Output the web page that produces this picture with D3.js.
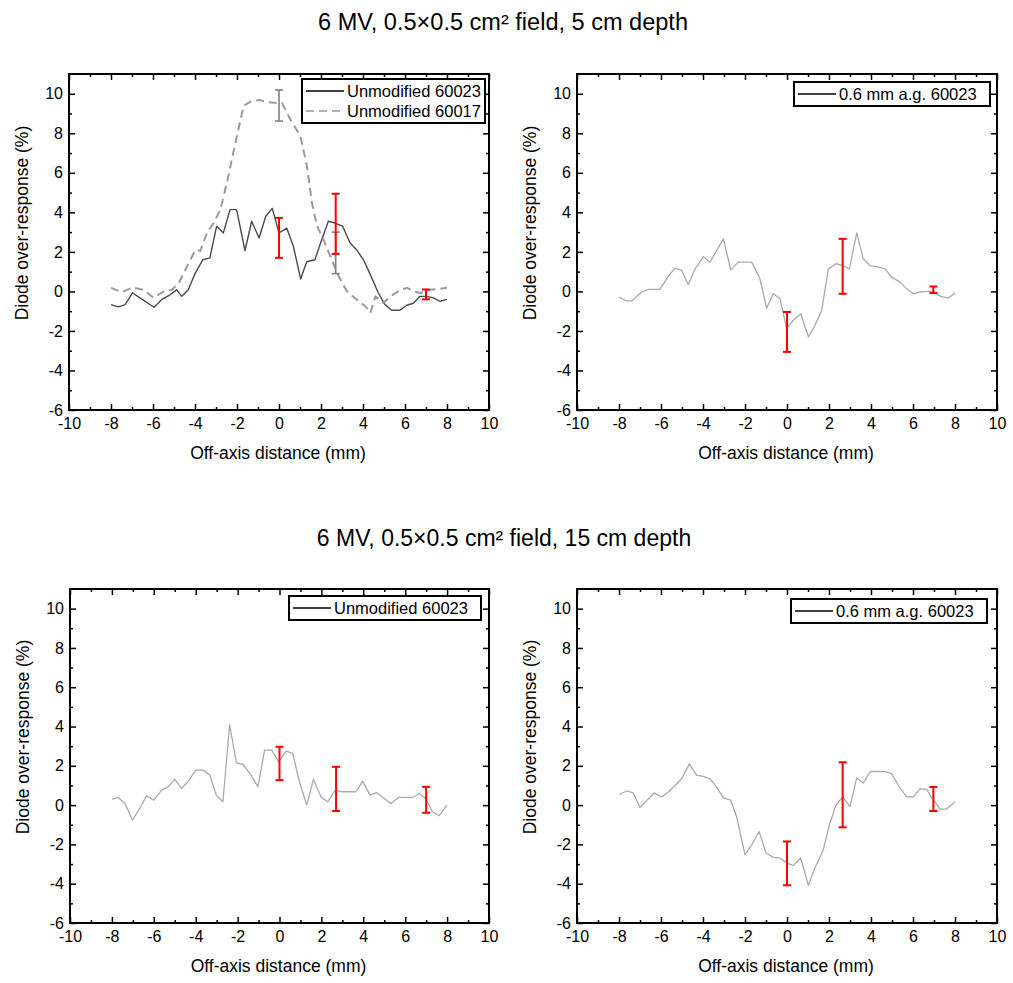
<!DOCTYPE html>
<html>
<head>
<meta charset="utf-8">
<script src="https://cdn.jsdelivr.net/npm/d3@7"></script>
<style>
body { margin: 0; background: #fff; }
text { font-family: "Liberation Sans", Arial, sans-serif; fill: #000; }
</style>
</head>
<body>
<svg id="chart" width="1013" height="983"></svg>
<script>
// ---- data (x in mm, y in %) ----
var titles = ['6 MV, 0.5\u00d70.5 cm\u00b2 field, 5 cm depth', '6 MV, 0.5\u00d70.5 cm\u00b2 field, 15 cm depth'];
var xTicks = [-10, -8, -6, -4, -2, 0, 2, 4, 6, 8, 10];
var yTicks = [-6, -4, -2, 0, 2, 4, 6, 8, 10];

// 5 cm depth, unmodified 60023
var d5Unmod23 = [
    [-8, -0.67], [-7.65, -0.78], [-7.33, -0.67], [-6.97, -0.08], [-6.62, -0.33], [-5.95, -0.8],
    [-5.59, -0.42], [-5.19, -0.17], [-4.87, 0.08], [-4.63, -0.25], [-4.32, 0.08], [-4.0, 0.9],
    [-3.63, 1.6], [-3.29, 1.7], [-2.97, 3.3], [-2.65, 2.96], [-2.33, 4.14], [-2.02, 4.14],
    [-1.62, 2.07], [-1.3, 3.55], [-0.95, 2.7], [-0.63, 3.8], [-0.32, 4.2], [0, 2.96],
    [0.37, 3.2], [0.68, 2.3], [1.03, 0.63], [1.32, 1.5], [1.71, 1.6], [2.03, 2.6],
    [2.35, 3.55], [2.67, 3.46], [3.03, 3.3], [3.38, 2.46], [3.7, 2.1], [4.02, 1.6],
    [4.33, 0.9], [4.73, -0.08], [5.05, -0.67], [5.37, -0.95], [5.76, -0.95], [6.08, -0.7],
    [6.4, -0.6], [6.71, -0.25], [7.03, -0.25], [7.35, -0.33], [7.67, -0.5], [8, -0.4]
];
// 5 cm depth, unmodified 60017
var d5Unmod17 = [
    [-8, 0.18], [-7.5, -0.04], [-6.97, 0.2], [-6.45, 0.08], [-5.97, -0.33], [-5.49, 0.0],
    [-5.1, 0.08], [-4.78, 0.4], [-4.38, 1.27], [-3.98, 2.1], [-3.75, 2.05], [-3.43, 2.96],
    [-3.11, 3.47], [-2.79, 4.14], [-2.48, 5.5], [-2.08, 7.5], [-1.68, 9.4], [-1.29, 9.63],
    [-0.89, 9.68], [-0.57, 9.58], [-0.25, 9.54], [0.14, 9.54], [0.54, 8.7], [1.02, 7.86],
    [1.33, 6.34], [1.57, 4.48], [1.81, 3.3], [2.05, 2.8], [2.44, 1.78], [2.84, 0.77],
    [3.24, 0.0], [3.71, -0.42], [4.11, -0.75], [4.35, -1.09], [4.59, -0.25], [4.98, -0.59],
    [5.3, -0.25], [5.78, 0.08], [6.1, 0.18], [6.41, 0.0], [6.73, -0.08], [7.21, 0.08], [8, 0.18]
];
// 5 cm depth, 0.6 mm air gap 60023
var d5Gap23 = [
    [-8, -0.28], [-7.71, -0.45], [-7.4, -0.49], [-6.92, -0.03], [-6.6, 0.1], [-6.05, 0.1],
    [-5.65, 0.77], [-5.33, 1.18], [-5.02, 1.06], [-4.7, 0.34], [-4.38, 1.14], [-3.98, 1.76],
    [-3.67, 1.48], [-3.03, 2.66], [-2.68, 1.09], [-2.32, 1.48], [-1.68, 1.48], [-1.29, 0.64],
    [-0.97, -0.84], [-0.65, -0.12], [-0.33, -0.37], [-0.02, -1.88], [0.3, -1.46], [0.65, -1.13],
    [1.02, -2.3], [1.33, -1.71], [1.65, -0.96], [1.97, 1.14], [2.33, 1.4], [2.65, 1.31],
    [2.97, 1.14], [3.32, 2.96], [3.63, 1.65], [3.95, 1.31], [4.35, 1.23], [4.67, 1.14],
    [4.98, 0.72], [5.38, 0.47], [5.7, 0.13], [6.02, -0.12], [6.33, -0.03], [6.65, 0.0],
    [6.97, 0.0], [7.29, -0.24], [7.68, -0.34], [8, -0.08]
];
// 15 cm depth, unmodified 60023
var d15Unmod23 = [
    [-8, 0.29], [-7.7, 0.39], [-7.38, 0.08], [-7.02, -0.76], [-6.67, -0.17], [-6.35, 0.47],
    [-6.0, 0.25], [-5.63, 0.76], [-5.32, 0.93], [-5.0, 1.31], [-4.68, 0.85], [-4.37, 1.19],
    [-4.0, 1.78], [-3.65, 1.78], [-3.33, 1.53], [-3.02, 0.51], [-2.7, 0.17], [-2.38, 4.1],
    [-2.06, 2.15], [-1.75, 2.08], [-1.35, 1.53], [-1.03, 0.93], [-0.71, 2.8], [-0.37, 2.8],
    [-0.05, 2.2], [0.32, 2.75], [0.63, 2.63], [0.95, 1.19], [1.3, 0.0], [1.62, 1.32],
    [1.98, 0.42], [2.3, 0.17], [2.67, 0.76], [2.98, 0.68], [3.65, 0.68], [3.97, 1.22],
    [4.32, 0.51], [4.63, 0.64], [5.0, 0.34], [5.32, 0.08], [5.68, 0.39], [6.35, 0.39],
    [6.67, 0.59], [6.98, 0.34], [7.3, -0.34], [7.62, -0.54], [8, 0.0]
];
// 15 cm depth, 0.6 mm air gap 60023
var d15Gap23 = [
    [-8, 0.54], [-7.63, 0.72], [-7.32, 0.62], [-7.0, -0.12], [-6.68, 0.22], [-6.33, 0.62],
    [-5.97, 0.42], [-5.65, 0.67], [-5.33, 1.0], [-5.02, 1.34], [-4.65, 2.1], [-4.3, 1.51],
    [-3.98, 1.46], [-3.67, 1.34], [-3.35, 0.92], [-3.03, 0.37], [-2.68, 0.25], [-2.4, -0.59],
    [-2.0, -2.52], [-1.68, -2.02], [-1.33, -1.34], [-1.0, -2.44], [-0.65, -2.66], [-0.33, -2.69],
    [-0.02, -2.94], [0.3, -3.08], [0.65, -2.69], [1.02, -4.08], [1.33, -3.19], [1.73, -2.27],
    [2.02, -1.0], [2.33, 0.0], [2.65, 0.42], [3.0, -0.08], [3.32, 1.39], [3.63, 1.13],
    [3.98, 1.71], [4.35, 1.71], [4.67, 1.71], [4.98, 1.6], [5.35, 0.92], [5.7, 0.42],
    [6.02, 0.42], [6.33, 0.84], [6.65, 0.8], [6.97, 0.25], [7.29, -0.2], [7.6, -0.2], [8, 0.17]
];

// error bars: [x, low, high]
var err5Unmod23 = [[0, 1.7, 3.72], [2.7, 1.9, 4.94], [7.0, -0.4, 0.1]];
var err5Unmod17 = [[0, 8.62, 10.19], [2.7, 0.9, 3.0]];
var err5Gap23 = [[0, -3.06, -1.04], [2.65, -0.12, 2.66], [6.97, -0.08, 0.25]];
var err15Unmod23 = [[0, 1.27, 2.97], [2.7, -0.3, 1.95], [7.0, -0.39, 0.93]];
var err15Gap23 = [[0, -4.08, -1.85], [2.65, -1.13, 2.18], [6.97, -0.3, 0.92]];

var svg = d3.select('#chart');

var panels = [
    {box: [69, 489, 74, 410], legend: [302, 79, 183],
        series: [
            {label: 'Unmodified 60023', data: d5Unmod23, color: '#4a4a4a', width: 1.4, key: '#000'},
            {label: 'Unmodified 60017', data: d5Unmod17, color: '#9a9a9a', width: 2, dash: '8,5', key: '#999'}
        ],
        errors: [
            {data: err5Unmod17, color: '#808080', width: 1.6},
            {data: err5Unmod23, color: '#ff0000', width: 2}
        ]},
    {box: [577, 997, 74, 410], legend: [794, 82, 196],
        series: [{label: '0.6 mm a.g. 60023', data: d5Gap23, color: '#aaaaaa', width: 1.3, key: '#000'}],
        errors: [{data: err5Gap23, color: '#ff0000', width: 2}]},
    {box: [70, 489, 589, 923], legend: [289, 596, 192],
        series: [{label: 'Unmodified 60023', data: d15Unmod23, color: '#aaaaaa', width: 1.3, key: '#000'}],
        errors: [{data: err15Unmod23, color: '#ff0000', width: 2}]},
    {box: [577, 997, 589, 923], legend: [791, 599, 196],
        series: [{label: '0.6 mm a.g. 60023', data: d15Gap23, color: '#aaaaaa', width: 1.3, key: '#000'}],
        errors: [{data: err15Gap23, color: '#ff0000', width: 2}]}
];

svg.append('text').attr('x', 503).attr('y', 30)
    .attr('text-anchor', 'middle').style('font-size', '23px')
    .attr('textLength', 370).attr('lengthAdjust', 'spacingAndGlyphs').text(titles[0]);
svg.append('text').attr('x', 504).attr('y', 546)
    .attr('text-anchor', 'middle').style('font-size', '23px').text(titles[1]);

panels.forEach(drawPanel);

// plain hyphen for negatives, as in the original figure
function hyphen(d) {
    return String(d);
}

function drawPanel(p) {
    var l = p.box[0], r = p.box[1], t = p.box[2], b = p.box[3];
    var x = d3.scaleLinear().domain([-10, 10]).range([l, r]);
    var y = d3.scaleLinear().domain([-6, 11]).range([b, t]);
    var g = svg.append('g');

    var minorX = d3.range(-9, 10, 2), minorY = d3.range(-5, 11, 2);

    // labelled axes with inward ticks
    var ax = g.append('g').attr('transform', 'translate(0,' + b + ')')
        .call(d3.axisBottom(x).tickValues(xTicks).tickSize(-6).tickPadding(8).tickFormat(hyphen));
    g.append('g').attr('transform', 'translate(' + l + ',0)')
        .call(d3.axisLeft(y).tickValues(yTicks).tickSize(-6).tickPadding(6).tickFormat(hyphen));
    // mirrored ticks on top and right
    g.append('g').attr('transform', 'translate(0,' + t + ')')
        .call(d3.axisTop(x).tickValues(xTicks).tickSize(-6).tickFormat(''));
    g.append('g').attr('transform', 'translate(' + r + ',0)')
        .call(d3.axisRight(y).tickValues(yTicks).tickSize(-6).tickFormat(''));
    // minor ticks
    g.append('g').attr('transform', 'translate(0,' + b + ')')
        .call(d3.axisBottom(x).tickValues(minorX).tickSize(-3).tickFormat(''));
    g.append('g').attr('transform', 'translate(0,' + t + ')')
        .call(d3.axisTop(x).tickValues(minorX).tickSize(-3).tickFormat(''));
    g.append('g').attr('transform', 'translate(' + l + ',0)')
        .call(d3.axisLeft(y).tickValues(minorY).tickSize(-3).tickFormat(''));
    g.append('g').attr('transform', 'translate(' + r + ',0)')
        .call(d3.axisRight(y).tickValues(minorY).tickSize(-3).tickFormat(''));

    g.selectAll('.domain').remove();
    g.selectAll('.tick line').attr('stroke', '#000').attr('stroke-width', 1.5);
    g.selectAll('.tick text').style('font-size', '16px').attr('fill', '#000');
    ax.selectAll('.tick text').attr('dy', '0.71em');

    // frame
    g.append('rect').attr('x', l).attr('y', t).attr('width', r - l).attr('height', b - t)
        .attr('fill', 'none').attr('stroke', '#000').attr('stroke-width', 2);

    // axis titles
    g.append('text').attr('x', (l + r) / 2 - 1).attr('y', b + 49)
        .attr('text-anchor', 'middle').style('font-size', '17.5px').text('Off-axis distance (mm)');
    g.append('text')
        .attr('transform', 'translate(' + (l - 41) + ',' + ((t + b) / 2 - 19) + ') rotate(-90)')
        .attr('text-anchor', 'middle').style('font-size', '17.5px').text('Diode over-response (%)');

    var line = d3.line().x(function(d) { return x(d[0]); }).y(function(d) { return y(d[1]); });

    p.series.forEach(function(s) {
        g.append('path').datum(s.data)
            .attr('d', line)
            .attr('fill', 'none')
            .attr('stroke', s.color)
            .attr('stroke-width', s.width)
            .attr('stroke-dasharray', s.dash || null)
            .attr('stroke-linejoin', 'round');
    });

    p.errors.forEach(function(e) {
        var eg = g.append('g').attr('stroke', e.color).attr('stroke-width', e.width);
        e.data.forEach(function(d) {
            var cx = x(d[0]);
            eg.append('line').attr('x1', cx).attr('x2', cx).attr('y1', y(d[1])).attr('y2', y(d[2]));
            eg.append('line').attr('x1', cx - 4).attr('x2', cx + 4).attr('y1', y(d[1])).attr('y2', y(d[1]));
            eg.append('line').attr('x1', cx - 4).attr('x2', cx + 4).attr('y1', y(d[2])).attr('y2', y(d[2]));
        });
    });

    // legend
    var lx = p.legend[0], ly = p.legend[1], lw = p.legend[2];
    var rowH = 20, lh = p.series.length * rowH + 4;
    var lg = g.append('g');
    lg.append('rect').attr('x', lx).attr('y', ly).attr('width', lw).attr('height', lh)
        .attr('fill', '#fff').attr('stroke', '#000').attr('stroke-width', 2);
    p.series.forEach(function(s, i) {
        var cy = ly + 12 + i * rowH;
        lg.append('line').attr('x1', lx + 4).attr('x2', lx + 42).attr('y1', cy).attr('y2', cy)
            .attr('stroke', s.key).attr('stroke-width', 1.5)
            .attr('stroke-dasharray', s.dash || null);
        lg.append('text').attr('x', lx + 45).attr('y', cy).attr('dy', '0.35em')
            .style('font-size', '16.5px').text(s.label);
    });
}
</script>
</body>
</html>
